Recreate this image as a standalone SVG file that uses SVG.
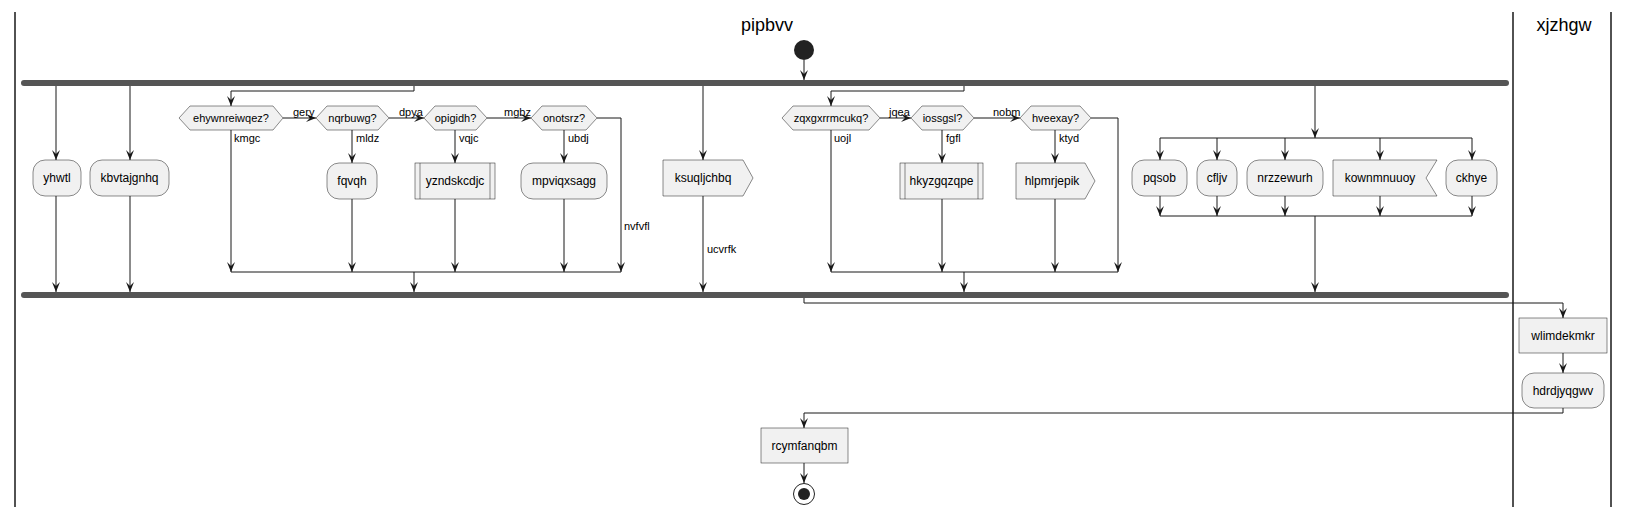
<svg xmlns="http://www.w3.org/2000/svg" width="1629" height="516" viewBox="0 0 1629 516">
<style>
.lane{stroke:#181818;stroke-width:1.5;fill:none}
.title{font-family:"Liberation Sans",Arial,sans-serif;font-size:18px;fill:#000;text-anchor:middle}
.bar{fill:#555555;stroke:none}
.box{fill:#F1F1F1;stroke:#181818;stroke-width:0.5}
.t{font-family:"Liberation Sans",Arial,sans-serif;font-size:12px;fill:#000;text-anchor:middle}
.dt{font-family:"Liberation Sans",Arial,sans-serif;font-size:11px;fill:#000;text-anchor:middle}
.lbl{font-family:"Liberation Sans",Arial,sans-serif;font-size:11px;fill:#000}
.c{fill:none;stroke:#181818;stroke-width:1;marker-end:url(#ah)}
.cn{fill:none;stroke:#181818;stroke-width:1}
</style>
<defs>
<marker id="ah" viewBox="0 0 10 8" refX="10" refY="4" markerWidth="10" markerHeight="8" markerUnits="userSpaceOnUse" orient="auto">
<path d="M0,0 L10,4 L0,8 L4,4 Z" fill="#181818"/>
</marker>
</defs>
<rect width="1629" height="516" fill="#FFFFFF"/>
<g id="lanes">
<line class="lane" x1="15" y1="12" x2="15" y2="507"/>
<line class="lane" x1="1513" y1="12" x2="1513" y2="507"/>
<line class="lane" x1="1611" y1="12" x2="1611" y2="507"/>
<text class="title" x="767" y="31">pipbvv</text>
<text class="title" x="1564" y="31">xjzhgw</text>
</g>
<g id="connectors">
<path class="c" d="M804,60 L804,80"/>
<path class="c" d="M56,86 L56,160"/>
<path class="c" d="M130,86 L130,160"/>
<path class="c" d="M56,196 L56,292"/>
<path class="c" d="M130,196 L130,292"/>
<path class="c" d="M414,86 L414,91 L231,91 L231,106"/>
<path class="c" d="M283,118 L316,118"/>
<path class="c" d="M389,118 L424,118"/>
<path class="c" d="M487,118 L531,118"/>
<path class="c" d="M231,130 L231,272"/>
<path class="c" d="M352,130 L352,163"/>
<path class="c" d="M455,130 L455,163"/>
<path class="c" d="M564,130 L564,163"/>
<path class="c" d="M352,199 L352,272"/>
<path class="c" d="M455,199 L455,272"/>
<path class="c" d="M564,199 L564,272"/>
<path class="c" d="M597,118 L621,118 L621,272"/>
<path class="cn" d="M231,272 L621,272"/>
<path class="c" d="M414,272 L414,292"/>
<path class="c" d="M703,86 L703,160"/>
<path class="c" d="M703,196 L703,292"/>
<path class="c" d="M964,86 L964,91 L831,91 L831,106"/>
<path class="c" d="M880,118 L911,118"/>
<path class="c" d="M974,118 L1020,118"/>
<path class="c" d="M831,130 L831,272"/>
<path class="c" d="M942,130 L942,163"/>
<path class="c" d="M1055,130 L1055,163"/>
<path class="c" d="M942,199 L942,272"/>
<path class="c" d="M1055,199 L1055,272"/>
<path class="c" d="M1091,118 L1118,118 L1118,272"/>
<path class="cn" d="M831,272 L1118,272"/>
<path class="c" d="M964,272 L964,292"/>
<path class="c" d="M1315,86 L1315,138"/>
<path class="cn" d="M1160,138 L1472,138"/>
<path class="c" d="M1160,138 L1160,160"/>
<path class="c" d="M1217,138 L1217,160"/>
<path class="c" d="M1285,138 L1285,160"/>
<path class="c" d="M1380,138 L1380,160"/>
<path class="c" d="M1472,138 L1472,160"/>
<path class="c" d="M1160,196 L1160,216"/>
<path class="c" d="M1217,196 L1217,216"/>
<path class="c" d="M1285,196 L1285,216"/>
<path class="c" d="M1380,196 L1380,216"/>
<path class="c" d="M1472,196 L1472,216"/>
<path class="cn" d="M1160,216 L1472,216"/>
<path class="c" d="M1315,216 L1315,292"/>
<path class="c" d="M804,298 L804,303 L1563,303 L1563,318"/>
<path class="c" d="M1563,353 L1563,373"/>
<path class="c" d="M1563,408 L1563,413 L804,413 L804,428"/>
<path class="c" d="M804,463 L804,483"/>
<text class="lbl" x="293" y="116">gery</text>
<text class="lbl" x="399" y="116">dpya</text>
<text class="lbl" x="504" y="116">mgbz</text>
<text class="lbl" x="889" y="116">jqea</text>
<text class="lbl" x="993" y="116">nobm</text>
<text class="lbl" x="234" y="142">kmgc</text>
<text class="lbl" x="356" y="142">mldz</text>
<text class="lbl" x="459" y="142">vqjc</text>
<text class="lbl" x="568" y="142">ubdj</text>
<text class="lbl" x="834" y="142">uojl</text>
<text class="lbl" x="946" y="142">fgfl</text>
<text class="lbl" x="1059" y="142">ktyd</text>
<text class="lbl" x="624" y="230">nvfvfl</text>
<text class="lbl" x="707" y="253">ucvrfk</text>
</g>
<g id="start"><circle cx="804" cy="50" r="10" fill="#222222"/></g>
<g id="fork"><rect class="bar" x="21" y="80" width="1488" height="6" rx="3"/></g>
<g id="join"><rect class="bar" x="21" y="292" width="1488" height="6" rx="3"/></g>
<g id="yhwtl"><rect class="box" x="33" y="160" width="48" height="36" rx="12"/><text class="t" x="57" y="182">yhwtl</text></g>
<g id="kbvtajgnhq"><rect class="box" x="90" y="160" width="79" height="36" rx="12"/><text class="t" x="129.5" y="182">kbvtajgnhq</text></g>
<g id="d1"><polygon class="box" points="179,118 190,106 273,106 283,118 273,130 190,130"/><text class="dt" x="231" y="122">ehywnreiwqez?</text></g>
<g id="d2"><polygon class="box" points="316,118 327,106 378,106 389,118 378,130 327,130"/><text class="dt" x="352.5" y="122">nqrbuwg?</text></g>
<g id="d3"><polygon class="box" points="424,118 435,106 476,106 487,118 476,130 435,130"/><text class="dt" x="455.5" y="122">opigidh?</text></g>
<g id="d4"><polygon class="box" points="531,118 542,106 586,106 597,118 586,130 542,130"/><text class="dt" x="564" y="122">onotsrz?</text></g>
<g id="fqvqh"><rect class="box" x="327" y="163" width="50" height="36" rx="12"/><text class="t" x="352" y="185">fqvqh</text></g>
<g id="yzndskcdjc"><rect class="box" x="415" y="163" width="80" height="36"/><line class="box" x1="420" y1="163" x2="420" y2="199"/><line class="box" x1="490" y1="163" x2="490" y2="199"/><text class="t" x="455" y="185">yzndskcdjc</text></g>
<g id="mpviqxsagg"><rect class="box" x="521" y="163" width="86" height="36" rx="12"/><text class="t" x="564" y="185">mpviqxsagg</text></g>
<g id="ksuqljchbq"><polygon class="box" points="663,160 743,160 753,178 743,196 663,196"/><text class="t" x="703" y="182">ksuqljchbq</text></g>
<g id="d5"><polygon class="box" points="782,118 793,106 869,106 880,118 869,130 793,130"/><text class="dt" x="831" y="122">zqxgxrrmcukq?</text></g>
<g id="d6"><polygon class="box" points="911,118 922,106 963,106 974,118 963,130 922,130"/><text class="dt" x="942.5" y="122">iossgsl?</text></g>
<g id="d7"><polygon class="box" points="1020,118 1031,106 1080,106 1091,118 1080,130 1031,130"/><text class="dt" x="1055.5" y="122">hveexay?</text></g>
<g id="hkyzgqzqpe"><rect class="box" x="900" y="163" width="83" height="36"/><line class="box" x1="905" y1="163" x2="905" y2="199"/><line class="box" x1="978" y1="163" x2="978" y2="199"/><text class="t" x="941.5" y="185">hkyzgqzqpe</text></g>
<g id="hlpmrjepik"><polygon class="box" points="1016,163 1085,163 1095,181 1085,199 1016,199"/><text class="t" x="1052" y="185">hlpmrjepik</text></g>
<g id="pqsob"><rect class="box" x="1132" y="160" width="55" height="36" rx="12"/><text class="t" x="1159.5" y="182">pqsob</text></g>
<g id="cfljv"><rect class="box" x="1197" y="160" width="40" height="36" rx="12"/><text class="t" x="1217" y="182">cfljv</text></g>
<g id="nrzzewurh"><rect class="box" x="1247" y="160" width="76" height="36" rx="12"/><text class="t" x="1285" y="182">nrzzewurh</text></g>
<g id="kownmnuuoy"><polygon class="box" points="1333,160 1437,160 1426,178 1437,196 1333,196"/><text class="t" x="1380" y="182">kownmnuuoy</text></g>
<g id="ckhye"><rect class="box" x="1446" y="160" width="51" height="36" rx="12"/><text class="t" x="1471.5" y="182">ckhye</text></g>
<g id="wlimdekmkr"><rect class="box" x="1519" y="318" width="88" height="35"/><text class="t" x="1563" y="340">wlimdekmkr</text></g>
<g id="hdrdjyqgwv"><rect class="box" x="1522" y="373" width="82" height="35" rx="12"/><text class="t" x="1563" y="395">hdrdjyqgwv</text></g>
<g id="rcymfanqbm"><rect class="box" x="761" y="428" width="87" height="35"/><text class="t" x="804.5" y="450">rcymfanqbm</text></g>
<g id="end"><circle cx="804" cy="494" r="10.5" fill="none" stroke="#222222" stroke-width="1"/><circle cx="804" cy="494" r="6" fill="#222222"/></g>
</svg>
